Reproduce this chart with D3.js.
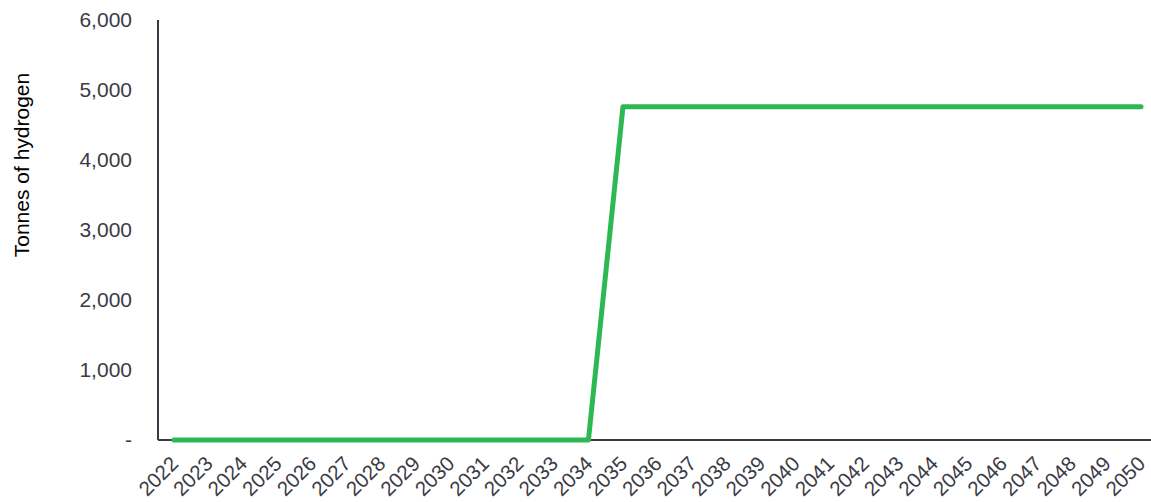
<!DOCTYPE html>
<html><head><meta charset="utf-8">
<script src="https://cdn.jsdelivr.net/npm/d3@7"></script>
<style>body{margin:0;background:#fff}svg{display:block}</style>
</head><body>
<svg id="c" width="1151" height="502"></svg>
<script>
const years = d3.range(2022, 2051).map(String);
const values = [0,0,0,0,0,0,0,0,0,0,0,0,0,4760,4760,4760,4760,4760,4760,4760,4760,4760,4760,4760,4760,4760,4760,4760,4760];
const yTicks = [0,1000,2000,3000,4000,5000,6000];
const yTitle = "Tonnes of hydrogen";

const svg = d3.select("#c");
const x = d3.scalePoint().domain(years).range([174, 1141]);
const y = d3.scaleLinear().domain([0, 6000]).range([440, 20]);
const txt = "#3b3b45";
const font = "Liberation Sans, Arial, sans-serif";

// y axis
const ya = svg.append("g").attr("transform","translate(158,0)")
  .call(d3.axisLeft(y).tickValues(yTicks).tickSize(0).tickPadding(26)
    .tickFormat(d => d === 0 ? "-" : d3.format(",")(d)));
ya.select(".domain").attr("stroke","#3b3b45").attr("stroke-width",2).attr("d","M0,20V440");
ya.selectAll("text").attr("font-family",font).attr("font-size",21).attr("fill",txt);

// x axis
const xa = svg.append("g").attr("transform","translate(0,440)")
  .call(d3.axisBottom(x).tickSize(0).tickPadding(0));
xa.select(".domain").attr("stroke","#3b3b45").attr("stroke-width",2).attr("d","M158,0H1151");
xa.selectAll("text").attr("font-family",font).attr("font-size",20.5).attr("fill",txt)
  .attr("text-anchor","end").attr("dy",0)
  .attr("transform","translate(5,25) rotate(-45)");

// y title
svg.append("text").attr("transform","translate(29,165) rotate(-90)")
  .attr("text-anchor","middle").attr("font-family",font).attr("font-size",21).attr("fill","#000")
  .text(yTitle);

// line
svg.append("path").datum(values)
  .attr("d", d3.line().x((d,i)=>x(years[i])).y(d=>y(d)))
  .attr("fill","none").attr("stroke","#2eb853").attr("stroke-width",5)
  .attr("stroke-linecap","round").attr("stroke-linejoin","round");
</script>
</body></html>
